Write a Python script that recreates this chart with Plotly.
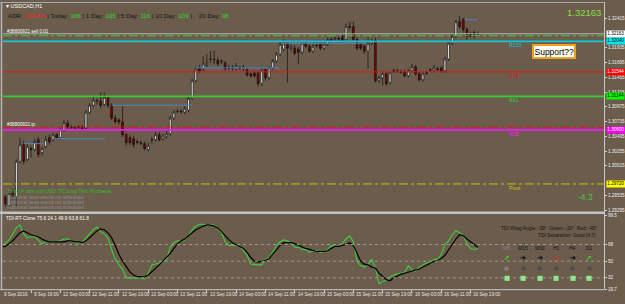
import plotly.graph_objects as go

W, H = 625, 304
BG = "#6b5c4c"

# ---------------- data ----------------
bar_index = list(range(131))

open_ = [
    1.29544, 1.29512, 1.29368, 1.29592, 1.29512, 1.30088, 1.30360, 1.30120, 1.30296, 1.30280,
    1.30440, 1.30232, 1.30328, 1.30472, 1.30440, 1.30520, 1.30472, 1.30600, 1.30712, 1.30648,
    1.30632, 1.30648, 1.30648, 1.30632, 1.30888, 1.31000, 1.31064, 1.31064, 1.31016, 1.31128,
    1.31000, 1.30792, 1.30760, 1.30728, 1.30520, 1.30472, 1.30456, 1.30408, 1.30392, 1.30376,
    1.30280, 1.30424, 1.30440, 1.30520, 1.30456, 1.30488, 1.30536, 1.30792, 1.30896, 1.30904,
    1.30888, 1.30920, 1.31112, 1.31400, 1.31608, 1.31592, 1.31656, 1.31744, 1.31736, 1.31736,
    1.31720, 1.31688, 1.31608, 1.31600, 1.31592, 1.31608, 1.31592, 1.31576, 1.31512, 1.31528,
    1.31528, 1.31352, 1.31576, 1.31448, 1.31608, 1.31720, 1.31832, 1.31912, 1.32008, 1.31928,
    1.31928, 1.31912, 1.31864, 1.32008, 1.31960, 1.31880, 1.31976, 1.31992, 1.31928, 1.31992,
    1.32072, 1.32072, 1.32088, 1.32120, 1.32072, 1.32280, 1.32280, 1.32072, 1.31992, 1.31960,
    1.31880, 1.32008, 1.32056, 1.31400, 1.31448, 1.31512, 1.31368, 1.31560, 1.31552, 1.31544,
    1.31544, 1.31480, 1.31560, 1.31624, 1.31512, 1.31416, 1.31528, 1.31568, 1.31560, 1.31592,
    1.31608, 1.31560, 1.31752, 1.32008, 1.32120, 1.32360, 1.32392, 1.32232, 1.32152, 1.32184,
    1.32160]
high = [
    1.29592, 1.29544, 1.29592, 1.29640, 1.30120, 1.30472, 1.30424, 1.30376, 1.30344, 1.30456,
    1.30488, 1.30328, 1.30504, 1.30520, 1.30552, 1.30552, 1.30632, 1.30760, 1.30760, 1.30680,
    1.30664, 1.30680, 1.30680, 1.30920, 1.31032, 1.31128, 1.31112, 1.31208, 1.31208, 1.31160,
    1.31032, 1.30840, 1.30792, 1.31000, 1.30552, 1.30520, 1.30504, 1.30440, 1.30424, 1.30408,
    1.30392, 1.30488, 1.30568, 1.30568, 1.30536, 1.30584, 1.30824, 1.30920, 1.30936, 1.30936,
    1.30984, 1.31144, 1.31432, 1.31624, 1.31656, 1.31800, 1.31832, 1.31880, 1.31896, 1.31784,
    1.31752, 1.31720, 1.31656, 1.31656, 1.31688, 1.31640, 1.31656, 1.31624, 1.31544, 1.31560,
    1.31560, 1.31608, 1.31608, 1.31640, 1.31752, 1.31864, 1.32024, 1.32072, 1.32040, 1.31992,
    1.31976, 1.31944, 1.32040, 1.32040, 1.31992, 1.31992, 1.32008, 1.32024, 1.32024, 1.32104,
    1.32104, 1.32120, 1.32120, 1.32152, 1.32328, 1.32360, 1.32360, 1.32104, 1.32024, 1.31992,
    1.32120, 1.32088, 1.32104, 1.31480, 1.31560, 1.31544, 1.31560, 1.31592, 1.31592, 1.31576,
    1.31576, 1.31592, 1.31672, 1.31656, 1.31544, 1.31544, 1.31560, 1.31608, 1.31656, 1.31624,
    1.31640, 1.31784, 1.32040, 1.32152, 1.32392, 1.32456, 1.32424, 1.32264, 1.32200, 1.32216,
    1.32200]
low = [
    1.29384, 1.29352, 1.29336, 1.29464, 1.29352, 1.30056, 1.30040, 1.30088, 1.30152, 1.30248,
    1.30152, 1.30184, 1.30296, 1.30360, 1.30408, 1.30440, 1.30440, 1.30568, 1.30616, 1.30616,
    1.30600, 1.30616, 1.30584, 1.30600, 1.30856, 1.30968, 1.31016, 1.30952, 1.30984, 1.30952,
    1.30760, 1.30696, 1.30680, 1.30488, 1.30344, 1.30360, 1.30312, 1.30360, 1.30344, 1.30264,
    1.30248, 1.30376, 1.30408, 1.30408, 1.30424, 1.30456, 1.30504, 1.30760, 1.30872, 1.30856,
    1.30856, 1.30888, 1.31080, 1.31368, 1.31528, 1.31560, 1.31624, 1.31688, 1.31672, 1.31640,
    1.31672, 1.31560, 1.31576, 1.31560, 1.31560, 1.31576, 1.31560, 1.31464, 1.31448, 1.31448,
    1.31304, 1.31320, 1.31400, 1.31416, 1.31576, 1.31688, 1.31800, 1.31880, 1.31368, 1.31880,
    1.31816, 1.31672, 1.31832, 1.31928, 1.31848, 1.31848, 1.31944, 1.31896, 1.31896, 1.31960,
    1.32040, 1.32040, 1.32056, 1.32024, 1.32040, 1.32232, 1.32040, 1.31896, 1.31896, 1.31832,
    1.31592, 1.31976, 1.31368, 1.31368, 1.31320, 1.31320, 1.31336, 1.31528, 1.31528, 1.31512,
    1.31448, 1.31448, 1.31528, 1.31480, 1.31384, 1.31384, 1.31496, 1.31544, 1.31528, 1.31560,
    1.31528, 1.31528, 1.31720, 1.31976, 1.32088, 1.32248, 1.32184, 1.32072, 1.32104, 1.32088,
    1.32136]
close = [
    1.29432, 1.29400, 1.29560, 1.29512, 1.30088, 1.30360, 1.30088, 1.30328, 1.30280, 1.30408,
    1.30200, 1.30296, 1.30440, 1.30408, 1.30520, 1.30472, 1.30600, 1.30712, 1.30648, 1.30640,
    1.30640, 1.30640, 1.30600, 1.30888, 1.31000, 1.31080, 1.31080, 1.31000, 1.31128, 1.31000,
    1.30792, 1.30728, 1.30728, 1.30520, 1.30392, 1.30392, 1.30360, 1.30400, 1.30384, 1.30296,
    1.30344, 1.30440, 1.30520, 1.30440, 1.30504, 1.30536, 1.30792, 1.30888, 1.30904, 1.30896,
    1.30952, 1.31112, 1.31400, 1.31592, 1.31560, 1.31672, 1.31688, 1.31752, 1.31744, 1.31672,
    1.31712, 1.31592, 1.31600, 1.31608, 1.31640, 1.31600, 1.31624, 1.31496, 1.31480, 1.31480,
    1.31352, 1.31576, 1.31448, 1.31608, 1.31720, 1.31832, 1.31992, 1.32008, 1.31928, 1.31960,
    1.31848, 1.31864, 1.32008, 1.31960, 1.31880, 1.31960, 1.31968, 1.31928, 1.31992, 1.32072,
    1.32064, 1.32088, 1.32080, 1.32056, 1.32280, 1.32272, 1.32072, 1.31928, 1.31928, 1.31880,
    1.32008, 1.32056, 1.31400, 1.31448, 1.31512, 1.31352, 1.31528, 1.31552, 1.31560, 1.31536,
    1.31480, 1.31560, 1.31624, 1.31512, 1.31416, 1.31512, 1.31520, 1.31576, 1.31608, 1.31584,
    1.31560, 1.31752, 1.32008, 1.32120, 1.32360, 1.32280, 1.32232, 1.32120, 1.32144, 1.32120,
    1.32163]

tdi_green = [
    67, 69, 73, 79.6, 86, 89, 79.6, 75.4, 76.5, 76.5,
    73, 69, 71, 71, 71, 71, 72, 74, 74, 72,
    70, 70, 70, 75, 79.6, 84, 87, 82, 79.6, 75.4,
    62.7, 52, 46, 41.5, 32, 32, 32, 32, 32, 31,
    37, 46, 47, 48, 49, 52, 65, 70, 72, 72,
    73, 77.5, 84, 88, 90, 90, 88, 90, 89, 86,
    80.7, 71, 67, 67, 67, 66, 61.6, 56.4, 46.8, 46,
    46, 46, 52, 54, 59.5, 67, 71, 73, 72, 69,
    65, 65, 62.7, 62.7, 59.5, 61.6, 61.6, 59.5, 60.5, 62.7,
    67, 66, 67, 69, 74, 77.5, 71, 50, 45, 43.6,
    46, 52, 43.6, 25.6, 28, 29, 33, 35, 36, 37,
    38, 45, 40.5, 39.5, 43.6, 46, 48, 49, 52, 52,
    57.4, 68, 72, 78.6, 83, 80.7, 77.5, 69, 63.8, 62.7,
    63.8]
tdi_signal = [
    65, 66, 69, 72, 76.5, 80.7, 82.8, 80.7, 78.6, 77.5,
    76.5, 74, 72, 71, 71, 71, 71, 71, 72, 72,
    71, 71, 70, 72, 75.4, 79.6, 82.8, 85, 84, 80.7,
    75.4, 67, 57.4, 50, 43.6, 38.4, 35, 33, 33, 33,
    35, 38.4, 42.6, 46, 50, 54, 58.5, 63.8, 69, 72,
    74, 77.5, 80.7, 84, 86, 88, 89, 89, 88, 86,
    82, 77.5, 73.3, 70, 68, 66, 63.8, 59.5, 54, 50,
    49, 50, 51, 53, 57.4, 62.7, 67, 70, 70, 70,
    69, 67, 65, 63.8, 62.7, 61.6, 60.5, 60.5, 60.5, 61.6,
    63.8, 66, 66, 67, 68, 70, 67, 58.5, 50, 46.8,
    46, 43.6, 42.6, 37, 33, 30, 28.8, 32, 34, 36,
    37, 38.4, 39.5, 40.5, 41.5, 43.6, 46, 48, 50, 51,
    53, 56.4, 62.7, 68, 74, 78.6, 77.5, 74, 71, 68,
    65]

time_labels = ["9 Sep 2016", "9 Sep 19:00", "12 Sep 03:00", "12 Sep 11:00", "12 Sep 19:00",
               "13 Sep 03:00", "13 Sep 11:00", "13 Sep 19:00", "14 Sep 03:00", "14 Sep 11:00",
               "14 Sep 19:00", "15 Sep 03:00", "15 Sep 11:00", "15 Sep 19:00", "16 Sep 03:00",
               "16 Sep 11:00", "16 Sep 19:00"]
label_every = 8

price_ticks = [1.29295, 1.29535, 1.30015, 1.30255, 1.30495, 1.30735,
               1.30975, 1.31215, 1.31455, 1.31695, 1.31935, 1.32415]
tdi_ticks = [19.7, 32, 50, 68, 99.5]
tdi_levels = [32, 50, 68]

level_names = ["", "#38800921 sell 0.01", "R100", "R78", "R61", "#38800921 tp", "R38", "Pivot"]
level_prices = [1.32163, 1.32131, 1.32040, 1.31544, 1.31144, 1.30648, 1.30600, 1.29720]

seg_start = [6, 14.5, 30, 53, 76.5, 126.5]
seg_end = [11.3, 28.2, 51.9, 75.8, 99.6, 129.8]
seg_price = [1.30376, 1.30456, 1.31000, 1.31608, 1.32008, 1.32392]

box_prices = [1.32163, 1.32040, 1.31544, 1.31144, 1.30600, 1.29720]

last_price = "1.32163"
adr_values = ["102.8%", "106", "105", "116", "109", "98"]
score_text = "-4.3"
news_lines = ["1 hour 4 mins until USD: TIC Long-Term Purchases",
              "Additional news events not scheduled",
              "Additional news events not scheduled",
              "Additional news events not scheduled"]
tdi_title = "TDI-RT-Clone 75.6 24.1 49.9 63.8 61.8"
tf_names = ["M5", "M15", "M30", "H1", "H4", "D1"]
tf_trend = ["up", "flat", "flat", "down", "flat", "up"]

# ---------------- styles / layout ----------------
level_colors = ["#b4b4b4", "#3ccc3c", "#10c8d8", "#e01818", "#30d030", "#e01818", "#ff10ff", "#c8c010"]
level_dash = ["solid", "dashdot", "solid", "solid", "solid", "dashdot", "solid", "dashdot"]
level_width = [1, 1, 1.6, 1, 1.6, 1, 1.6, 1]
box_bg = ["#ffffff", "#00e8f0", "#ff0000", "#00ff00", "#ff00ff", "#ffff00"]
box_fg = ["#000000", "#000000", "#ffffff", "#000000", "#ffffff", "#000000"]

X0, X1 = 3, 605          # plot area in px
MAIN_T, MAIN_B = 2, 212
SUB_T, SUB_B = 217, 292
R0 = 0.354
R1 = R0 + (X1 - X0) / 3.669
YR = [1.3268 - 0.00016 * MAIN_B, 1.3268 - 0.00016 * MAIN_T]


def px(x):
    return x / W


def py(y):
    return 1 - y / H


fig = go.Figure()
fig.add_trace(go.Candlestick(
    x=bar_index, open=open_, high=high, low=low, close=close,
    increasing=dict(fillcolor="#ffffff", line=dict(color="#111111", width=0.7)),
    decreasing=dict(fillcolor="#8b0000", line=dict(color="#111111", width=0.7)),
    whiskerwidth=0, xaxis="x", yaxis="y", showlegend=False, hoverinfo="skip"))
fig.add_trace(go.Scatter(x=bar_index, y=tdi_green, mode="lines",
                         line=dict(color="#3ad23a", width=1.1), xaxis="x2", yaxis="y2",
                         showlegend=False, hoverinfo="skip"))
fig.add_trace(go.Scatter(x=bar_index, y=tdi_signal, mode="lines",
                         line=dict(color="#000000", width=1.2), xaxis="x2", yaxis="y2",
                         showlegend=False, hoverinfo="skip"))

shapes = []
# frame
shapes.append(dict(type="line", xref="paper", yref="paper", x0=px(1.5), x1=px(1.5), y0=py(0), y1=py(SUB_B),
                   line=dict(color="#b8b8b8", width=1.5)))
shapes.append(dict(type="line", xref="paper", yref="paper", x0=px(X1 + 0.5), x1=px(X1 + 0.5), y0=py(0), y1=py(SUB_B),
                   line=dict(color="#c8c8c8", width=1)))
shapes.append(dict(type="line", xref="paper", yref="paper", x0=0, x1=px(X1 + 0.5), y0=py(0.5), y1=py(0.5),
                   line=dict(color="#a8a8a8", width=1)))
shapes.append(dict(type="rect", xref="paper", yref="paper", x0=0, x1=px(X1 + 1), y0=py(215.5), y1=py(213),
                   fillcolor="#c4c4c4", line=dict(width=0)))
shapes.append(dict(type="line", xref="paper", yref="paper", x0=0, x1=px(X1 + 0.5), y0=py(SUB_B + 0.5), y1=py(SUB_B + 0.5),
                   line=dict(color="#c8c8c8", width=1)))
# horizontal levels
for p, c, d, w in zip(level_prices, level_colors, level_dash, level_width):
    shapes.append(dict(type="line", xref="x domain", yref="y", x0=0, x1=1, y0=p, y1=p,
                       line=dict(color=c, width=w, dash=d)))
# steel blue segments
for a, b, p in zip(seg_start, seg_end, seg_price):
    shapes.append(dict(type="line", xref="x", yref="y", x0=a, x1=b, y0=p, y1=p,
                       line=dict(color="#4a86c8", width=1)))
# TDI levels
for v in tdi_levels:
    shapes.append(dict(type="line", xref="x2 domain", yref="y2", x0=0, x1=1, y0=v, y1=v,
                       line=dict(color="#a09a90", width=1, dash="dot")))

ann = []
FONT = "Liberation Sans"


def text(x, y, s, size=5, color="#ffffff", xanchor="left", yanchor="middle", **kw):
    ann.append(dict(x=px(x), y=py(y), xref="paper", yref="paper", text=s, showarrow=False,
                    xanchor=xanchor, yanchor=yanchor,
                    font=dict(size=size, color=color, family=kw.pop("family", FONT)), **kw))


text(4, 4.5, "▾ USDCAD,H1", 5.5, "#ffffff")
g = "<span style='color:#22dd22'>%s</span>"
adr = ("ADR: <span style='color:#ff2222'>%s</span> | Today: " + g + " | 1 Day: " + g +
       " | 5 Day: " + g + " | 10 Day: " + g + " |&nbsp;&nbsp;&nbsp; 20 Day: " + g) % tuple(adr_values)
text(6, 14, adr, 6.2, "#151515")
text(604, 10.5, last_price, 9.5, "#86e040", xanchor="right")
# level labels
text(5, 30.5, level_names[1], 4.6, "#ffffff")
text(5, 124.5, level_names[5], 4.6, "#ffffff")
for name, p, c in zip(level_names, level_prices, level_colors):
    if name.startswith("R") or name == "Pivot":
        ann.append(dict(x=138, y=p, xref="x", yref="y", text=name, showarrow=False,
                        xanchor="left", yanchor="middle", yshift=-4,
                        font=dict(size=5.2, color=c, family=FONT)))
# support box
text(554.5, 50, "Support??", 8.5, "#000000", xanchor="center",
     bgcolor="#fffdf4", bordercolor="#f0a020", borderwidth=2, borderpad=0.5)
text(596, 198.5, score_text, 8.5, "#46c846", xanchor="right")
# news
news_y = [193, 199, 204.3, 209.3]
news_c = ["#22c022", "#8c8c8c", "#8c8c8c", "#8c8c8c"]
for s, yy, c in zip(news_lines, news_y, news_c):
    text(5, yy, s, 4.6, c)
# axis boxes
for p, bg, fg in zip(box_prices, box_bg, box_fg):
    ann.append(dict(x=px(X1 + 1.5), y=p, xref="paper", yref="y", text="%.5f" % p, showarrow=False,
                    xanchor="left", yanchor="middle", bgcolor=bg, borderpad=0.3,
                    font=dict(size=4.6, color=fg, family=FONT)))
# TDI panel texts
text(4, 220, tdi_title, 4.8, "#ffffff")
text(600, 230.5, "TDI Wlwg Angle: -39°&nbsp;&nbsp;Green: -20°&nbsp;&nbsp;Red: -45°", 4.8, "#141414", xanchor="right")
text(598, 237.5, "TDI Separation: Good [4.7]", 4.8, "#141414", xanchor="right")
arrow_sym = {"up": ("➚", "#22ee22"), "flat": ("➔", "#000000"), "down": ("➘", "#ff1010")}
for k, (nm, tr) in enumerate(zip(tf_names, tf_trend)):
    cx = 507.5 + 16.5 * k
    text(cx, 250.5, nm, 5, "#8a8a8a" if k == 0 else "#111111", xanchor="center")
    s, c = arrow_sym[tr]
    text(cx, 260.5, s, 7, c, xanchor="center", family="DejaVu Sans")
    text(cx, 270, "●", 5.5, "#8a7f7a" if k == 0 else "#4e4e4e", xanchor="center", family="DejaVu Sans")
    text(cx, 281, "■", 6.5, "#8ee88e", xanchor="center", family="DejaVu Sans")
# time labels
for k, lab in enumerate(time_labels):
    i = k * label_every
    xp = X0 + (i - R0) * (X1 - X0) / (R1 - R0)
    text(xp + 0.8, 297.5, lab, 4.6, "#e8e8e8")

fig.update_layout(
    width=W, height=H, margin=dict(l=0, r=0, t=0, b=0),
    paper_bgcolor=BG, plot_bgcolor=BG, showlegend=False,
    font=dict(family=FONT, color="#ffffff"),
    shapes=shapes, annotations=ann,
    xaxis=dict(domain=[px(X0), px(X1)], range=[R0, R1], anchor="y", showticklabels=False,
               showgrid=False, zeroline=False, rangeslider=dict(visible=False), fixedrange=True),
    yaxis=dict(domain=[py(MAIN_B), py(MAIN_T)], range=YR, side="right", anchor="x",
               tickvals=price_ticks, ticktext=["%.5f" % v for v in price_ticks],
               tickfont=dict(size=4.6, color="#f0f0f0"), ticks="outside", ticklen=2,
               tickcolor="#d0d0d0", showgrid=False, zeroline=False),
    xaxis2=dict(domain=[px(X0), px(X1)], range=[R0, R1], anchor="y2",
                tickvals=[k * label_every for k in range(1, len(time_labels))],
                showticklabels=False, ticks="outside", ticklen=3, tickcolor="#d0d0d0",
                showgrid=False, zeroline=False),
    yaxis2=dict(domain=[py(SUB_B), py(SUB_T)], range=[19.7, 99.5], side="right", anchor="x2",
                tickvals=tdi_ticks, ticktext=["%g" % v for v in tdi_ticks],
                tickfont=dict(size=4.6, color="#f0f0f0"), ticks="outside", ticklen=2,
                tickcolor="#d0d0d0", showgrid=False, zeroline=False),
)

fig.write_html("out.html")
